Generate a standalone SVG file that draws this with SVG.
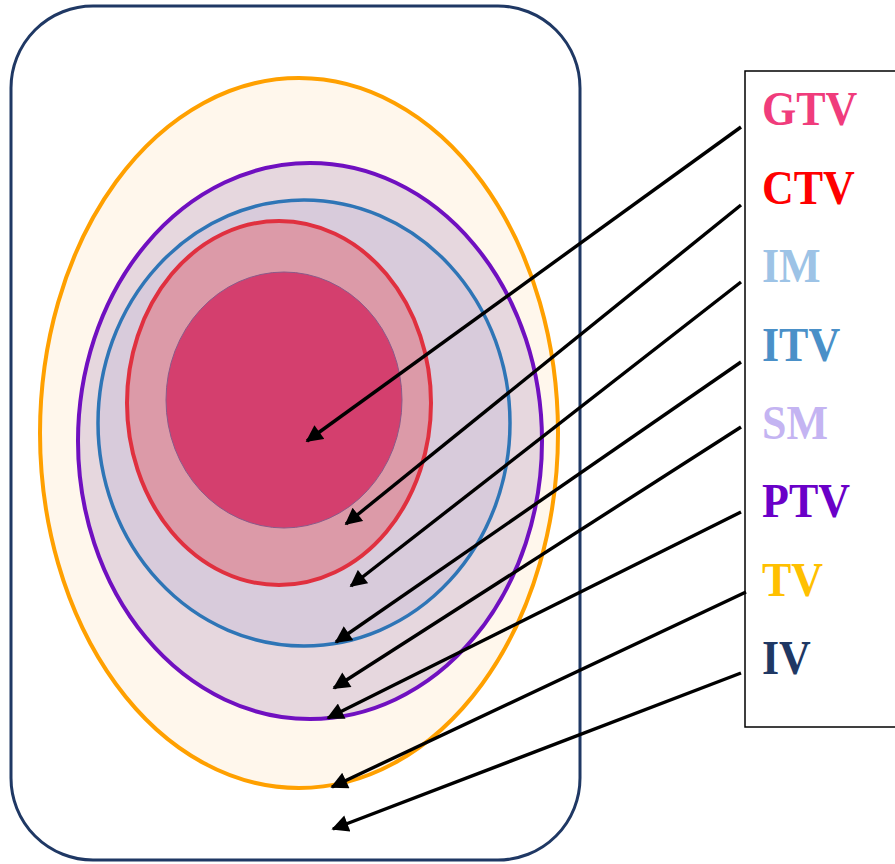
<svg xmlns="http://www.w3.org/2000/svg" width="895" height="864" viewBox="0 0 895 864">
<style>
.lbl{font-family:"Liberation Serif","Times New Roman",serif;font-weight:bold;font-size:44px}
.conn line{stroke:#000;stroke-width:3.4;marker-end:url(#ah)}
</style>
<defs>
<marker id="ah" viewBox="0 0 10 10" refX="9" refY="5" markerWidth="5.2" markerHeight="5" markerUnits="strokeWidth" orient="auto">
<path d="M0,0 L10,5 L0,10 z" fill="#000"/>
</marker>
</defs>
<rect width="895" height="864" fill="#fff"/>
<g id="IV-region"><rect x="11" y="6" width="569" height="854" rx="82" ry="82" fill="#fff" stroke="#1f3864" stroke-width="3"/></g>
<g id="TV-region"><ellipse cx="299" cy="433" rx="259" ry="355" fill="#fff7ec" stroke="#ffa000" stroke-width="4"/></g>
<g id="PTV-region"><ellipse cx="310" cy="441" rx="232" ry="278" fill="#e6d7de" stroke="#7010c0" stroke-width="4"/></g>
<g id="ITV-region"><ellipse cx="304" cy="423" rx="206" ry="223" fill="#d8cbdb" stroke="#2e75b6" stroke-width="3.5"/></g>
<g id="CTV-region"><ellipse cx="279" cy="403" rx="152" ry="182" fill="#dc9aa8" stroke="#e0303f" stroke-width="4"/></g>
<g id="GTV-region"><ellipse cx="284" cy="400" rx="118" ry="128" fill="#d43f6e" stroke="#8a5a8a" stroke-width="1"/></g>
<g id="legend">
<rect x="745" y="71" width="160" height="656" fill="#fff" stroke="#000" stroke-width="1.5"/>
<text class="lbl" transform="translate(762,125) scale(1,1.1)" fill="#f03c7c">GTV</text>
<text class="lbl" transform="translate(762,204) scale(1,1.1)" fill="#ff0000">CTV</text>
<text class="lbl" transform="translate(762,282) scale(1,1.1)" fill="#9dc3e6">IM</text>
<text class="lbl" transform="translate(762,361) scale(1,1.1)" fill="#4a90c8">ITV</text>
<text class="lbl" transform="translate(762,439) scale(1,1.1)" fill="#c4b4f2">SM</text>
<text class="lbl" transform="translate(762,517) scale(1,1.1)" fill="#6a00c8">PTV</text>
<text class="lbl" transform="translate(762,596) scale(1,1.1)" fill="#ffc000">TV</text>
<text class="lbl" transform="translate(762,674) scale(1,1.1)" fill="#1f3864">IV</text>
</g>
<g id="connectors" class="conn">
<line x1="741" y1="127" x2="307" y2="441"/>
<line x1="741" y1="205" x2="346" y2="524"/>
<line x1="741" y1="282" x2="351" y2="586"/>
<line x1="741" y1="362" x2="336" y2="642"/>
<line x1="741" y1="427" x2="334" y2="688"/>
<line x1="741" y1="512" x2="328" y2="718"/>
<line x1="746" y1="592" x2="332" y2="787"/>
<line x1="741" y1="673" x2="333" y2="829"/>
</g>
</svg>
